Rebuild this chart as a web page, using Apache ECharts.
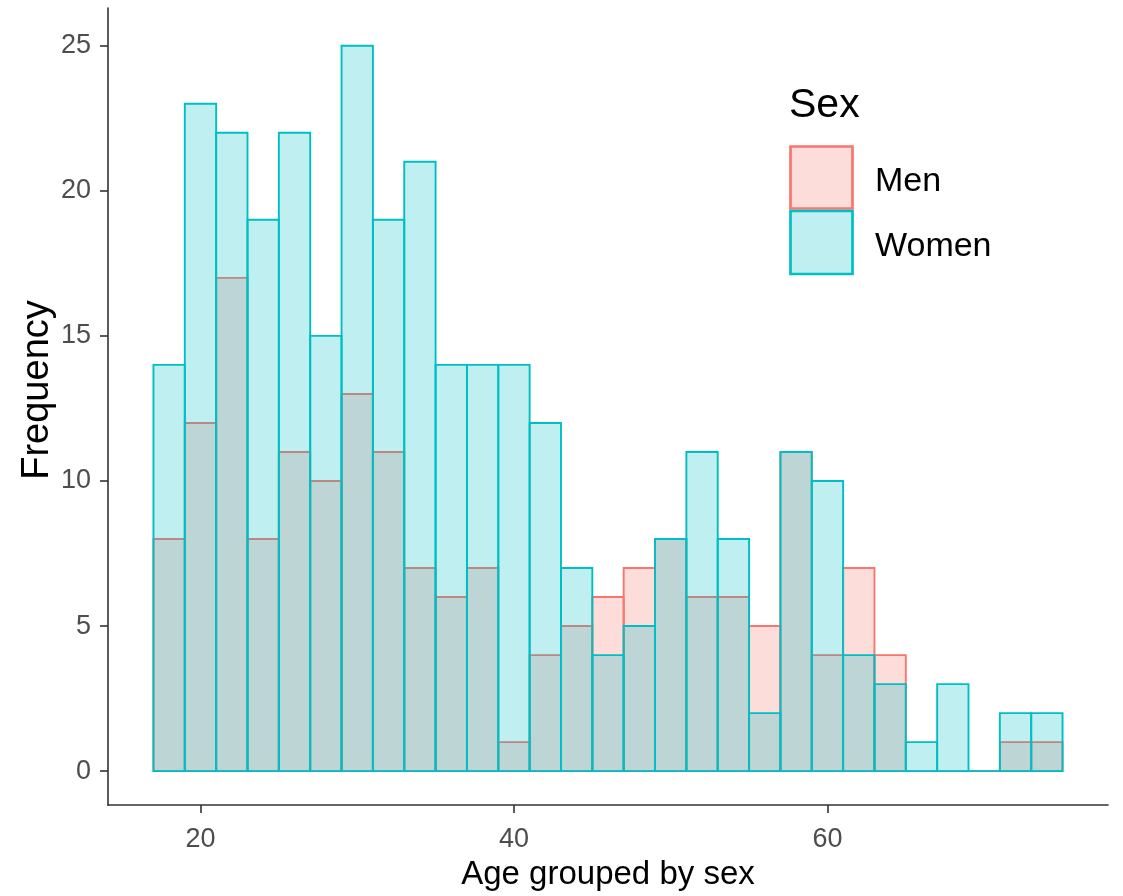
<!DOCTYPE html>
<html>
<head>
<meta charset="utf-8">
<script src="https://cdn.jsdelivr.net/npm/echarts@6/dist/echarts.min.js"></script>
<style>
html,body{margin:0;padding:0;background:#fff;}
#chart{width:1123px;height:896px;}
</style>
</head>
<body>
<div id="chart"></div>
<script>
// Histogram bins (left edges, bin width 2 years)
const binStart = [17,19,21,23,25,27,29,31,33,35,37,39,41,43,45,47,49,51,53,55,57,59,61,63,65,67,69,71,73];
const binWidth = 2;
const men   = [8,12,17,8,11,10,13,11,7,6,7,1,4,5,6,7,8,6,6,5,11,4,7,4,0,0,0,1,1];
const women = [14,23,22,19,22,15,25,19,21,14,14,14,12,7,4,5,8,11,8,2,11,10,4,3,1,3,0,2,2];
const xTicks = [20,40,60];
const yTicks = [0,5,10,15,20,25];
const seriesNames = ['Men','Women'];

const FONT = '"Liberation Sans", Arial, sans-serif';
const colors = {
  Men:   {fill:'rgba(248,118,109,0.25)', stroke:'#F8766D'},
  Women: {fill:'rgba(0,191,196,0.25)',   stroke:'#00BFC4'}
};

function histSeries(name, counts){
  return {
    type:'custom',
    name:name,
    data: binStart.map((s,i)=>[s, s+binWidth, counts[i]]),
    encode:{x:[0,1], y:2},
    renderItem:function(params, api){
      const x0 = api.value(0), x1 = api.value(1), c = api.value(2);
      const p0 = api.coord([x0, c]);
      const p1 = api.coord([x1, 0]);
      return {
        type:'rect',
        shape:{x:p0[0], y:p0[1], width:p1[0]-p0[0], height:p1[1]-p0[1]},
        style:{fill:colors[name].fill, stroke:colors[name].stroke, lineWidth:1.9}
      };
    }
  };
}

const chart = echarts.init(document.getElementById('chart'), null, {renderer:'canvas'});
chart.setOption({
  backgroundColor:'#ffffff',
  animation:false,
  grid:{left:108, right:15, top:8, bottom:89, containLabel:false},
  xAxis:{
    type:'value', min:14.1, max:77.9,
    name:'Age grouped by sex', nameLocation:'middle', nameGap:51,
    nameTextStyle:{fontFamily:FONT, fontSize:33, color:'#000'},
    axisLine:{show:true, onZero:false, lineStyle:{color:'#333', width:1.6}},
    axisTick:{show:true, length:8, lineStyle:{color:'#333', width:1.6}, customValues:xTicks},
    axisLabel:{fontFamily:FONT, fontSize:27, color:'#4D4D4D', margin:21, customValues:xTicks},
    splitLine:{show:false}
  },
  yAxis:{
    type:'value', min:-1.17, max:26.3,
    axisLine:{show:true, onZero:false, lineStyle:{color:'#333', width:1.6}},
    axisTick:{show:true, length:8, lineStyle:{color:'#333', width:1.6}, customValues:yTicks},
    axisLabel:{fontFamily:FONT, fontSize:27, color:'#4D4D4D', margin:17, customValues:yTicks},
    splitLine:{show:false}
  },
  series:[histSeries(seriesNames[0], men), histSeries(seriesNames[1], women)],
  graphic:[
    {type:'text', x:38, y:390, rotation:Math.PI/2,
     style:{text:'Frequency', fontFamily:FONT, fontSize:38, fill:'#000', align:'center', verticalAlign:'middle'}},
    {type:'text', x:789, y:106, style:{text:'Sex', fontFamily:FONT, fontSize:41, fill:'#000', verticalAlign:'middle'}},
    {type:'rect', x:790.5, y:146.5, shape:{x:0,y:0,width:62,height:62},
     style:{fill:colors.Men.fill, stroke:colors.Men.stroke, lineWidth:2.7}},
    {type:'rect', x:790.5, y:211, shape:{x:0,y:0,width:62,height:63},
     style:{fill:colors.Women.fill, stroke:colors.Women.stroke, lineWidth:2.7}},
    {type:'text', x:875, y:182, style:{text:'Men', fontFamily:FONT, fontSize:34, fill:'#000', verticalAlign:'middle'}},
    {type:'text', x:875, y:247, style:{text:'Women', fontFamily:FONT, fontSize:34, fill:'#000', verticalAlign:'middle'}}
  ]
});
</script>
</body>
</html>
